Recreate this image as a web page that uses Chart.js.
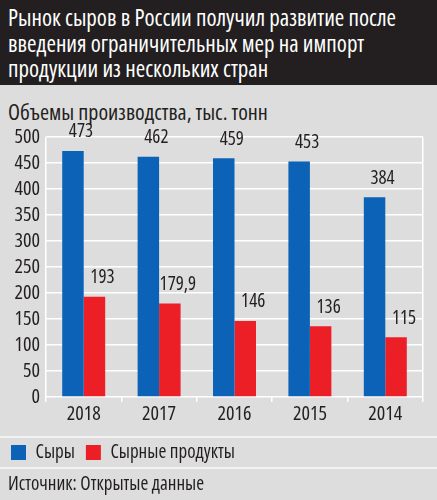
<!DOCTYPE html>
<html lang="ru">
<head>
<meta charset="utf-8">
<title>Рынок сыров в России</title>
<script src="https://cdn.jsdelivr.net/npm/chart.js@4.4.1/dist/chart.umd.min.js"></script>
<style>
  html, body { margin: 0; padding: 0; }
  body {
    width: 437px; height: 500px; position: relative; overflow: hidden;
    background: #dddddd;
    font-family: "Open Sans", sans-serif;
    font-stretch: condensed;
    color: #231f20;
  }
  .header {
    position: absolute; left: 0; top: 0; width: 437px; height: 85px;
    background: #231f20; color: #fff;
  }
  .header div {
    position: absolute; left: 8px; top: 4px;
    font-size: 24px; line-height: 25.5px; white-space: nowrap;
    transform: scaleX(0.955); transform-origin: left top;
  }
  .subtitle { position: absolute; left: 8px; top: 98px; font-size: 22px; line-height: 26px; white-space: nowrap; }
  .chart-box { position: absolute; left: 0; top: 85px; width: 437px; height: 390px; }
  .sep { position: absolute; left: 0; width: 437px; height: 2px; background: #f2f2f2; }
  .source { position: absolute; left: 8px; top: 471px; font-size: 19px; line-height: 24px; white-space: nowrap; }
</style>
</head>
<body>
<div class="header"><div>Рынок сыров в России получил развитие после<br>введения ограничительных мер на импорт<br>продукции из нескольких стран</div></div>
<div class="subtitle">Объемы производства, тыс. тонн</div>
<div class="chart-box"><canvas id="cheeseChart"></canvas></div>
<div class="sep" style="top:436px"></div>
<div class="sep" style="top:467px"></div>
<div class="source">Источник: Открытые данные</div>

<script>
// Data
const years = ['2018', '2017', '2016', '2015', '2014'];
const cheese = [473, 462, 459, 453, 384];
const cheeseProducts = [193, 179.9, 146, 136, 115];
const seriesNames = ['Сыры', 'Сырные продукты'];
const yTicks = [0, 50, 100, 150, 200, 250, 300, 350, 400, 450, 500];

const FAMILY = '"Open Sans", sans-serif';
// 'condensed' goes into the font string before the size
const STRETCH = 'condensed';
const BLUE = '#0b62b6';
const RED = '#ec1e26';
const INK = '#231f20';

// Value labels above bars
const valueLabels = {
    id: 'valueLabels',
    afterDatasetsDraw(chart) {
        const ctx = chart.ctx;
        ctx.save();
        ctx.font = STRETCH + ' 19px ' + FAMILY;
        ctx.fillStyle = INK;
        ctx.textAlign = 'center';
        ctx.textBaseline = 'middle';
        chart.data.datasets.forEach((ds, i) => {
            chart.getDatasetMeta(i).data.forEach((bar, j) => {
                const text = String(ds.data[j]).replace('.', ',');
                ctx.fillText(text, bar.x + 8, bar.y - 19);
            });
        });
        ctx.restore();
    }
};

document.addEventListener('DOMContentLoaded', function() {
    const ctx = document.getElementById('cheeseChart').getContext('2d');
    const font = size => ({ family: FAMILY, size: size, weight: STRETCH });

    new Chart(ctx, {
        type: 'bar',
        data: {
            labels: years,
            datasets: [
                { label: seriesNames[0], data: cheese, backgroundColor: BLUE },
                { label: seriesNames[1], data: cheeseProducts, backgroundColor: RED }
            ]
        },
        options: {
            responsive: true,
            maintainAspectRatio: false,
            animation: false,
            categoryPercentage: 0.57,
            barPercentage: 1,
            layout: { padding: { left: 0, right: 14, top: 52, bottom: 3 } },
            plugins: {
                legend: {
                    position: 'bottom',
                    align: 'start',
                    labels: {
                        boxWidth: 15,
                        boxHeight: 15,
                        padding: 11,
                        color: INK,
                        font: font(19)
                    }
                },
                tooltip: { enabled: false }
            },
            scales: {
                x: {
                    grid: {
                        offset: true,
                        color: c => (c.index === 0 || c.index === undefined) ? '#ffffff' : 'rgba(0,0,0,0)',
                        tickColor: '#ffffff',
                        tickLength: 5,
                        lineWidth: 1.5
                    },
                    border: { display: false },
                    ticks: { color: INK, padding: 0, font: font(20) },
                    afterFit: s => { s.height = 35; }
                },
                y: {
                    min: 0,
                    max: 500,
                    afterBuildTicks: s => { s.ticks = yTicks.map(v => ({ value: v })); },
                    grid: { color: '#ffffff', lineWidth: 1.5, drawTicks: false },
                    border: { display: false },
                    ticks: { color: INK, padding: 6, autoSkip: false, font: font(20) },
                    afterFit: s => { s.width = 46; }
                }
            }
        },
        plugins: [valueLabels]
    });
});
</script>
</body>
</html>
